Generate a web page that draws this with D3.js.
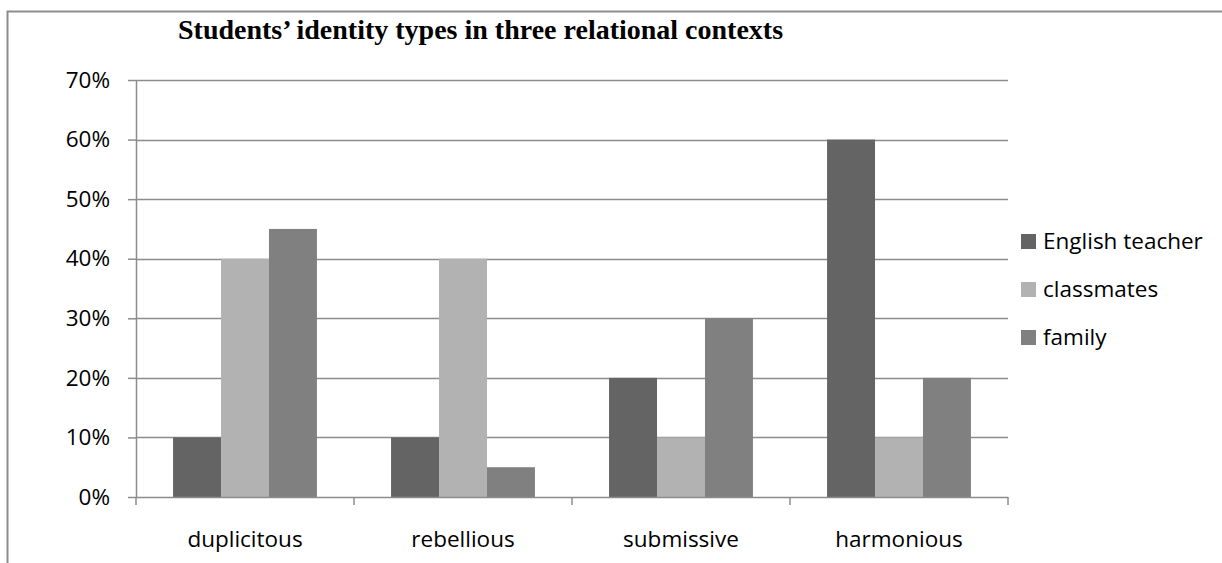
<!DOCTYPE html>
<html>
<head>
<meta charset="utf-8">
<script src="https://cdn.jsdelivr.net/npm/d3@7"></script>
<style>
  html, body { margin: 0; padding: 0; background: #fff; }
  svg { display: block; }
</style>
</head>
<body>
<svg id="chart" width="1222" height="563"></svg>
<script>
// Identity types per relational context (share of students)
const categories = ["duplicitous", "rebellious", "submissive", "harmonious"];
const seriesNames = ["English teacher", "classmates", "family"];
const englishTeacher = [0.10, 0.10, 0.20, 0.60];
const classmates = [0.40, 0.40, 0.10, 0.10];
const family = [0.45, 0.05, 0.30, 0.20];
const yTicks = [0, 0.1, 0.2, 0.3, 0.4, 0.5, 0.6, 0.7];
const seriesColors = ["#646464", "#b2b2b2", "#808080"];
const titleText = "Students\u2019 identity types in three relational contexts";

const seriesValues = [englishTeacher, classmates, family];
const rows = categories.map((c, i) => ({
  category: c,
  values: seriesNames.map((s, j) => ({ series: s, value: seriesValues[j][i], idx: j }))
}));

const svg = d3.select("#chart");
const plot = { left: 136, right: 1008, top: 80, bottom: 497 };
const sansFont = "'Open Sans', 'Noto Sans', sans-serif";
const labelSize = 22.5;

// Outer chart frame
svg.append("path")
  .attr("d", "M7.5,563 V11.5 H1222")
  .attr("fill", "none")
  .attr("stroke", "#8c8c8c")
  .attr("stroke-width", 2);

// Title
svg.append("text")
  .attr("x", 178)
  .attr("y", 39)
  .attr("font-family", "'Liberation Serif', 'Times New Roman', serif")
  .attr("font-weight", "bold")
  .attr("font-size", 28)
  .attr("fill", "#000")
  .text(titleText);

const x0 = d3.scaleBand()
  .domain(categories)
  .range([plot.left, plot.right])
  .paddingInner(0.34)
  .paddingOuter(0.17);

const x1 = d3.scaleBand()
  .domain(seriesNames)
  .range([0, x0.bandwidth()]);

const y = d3.scaleLinear()
  .domain([0, 0.7])
  .range([plot.bottom, plot.top]);

// Horizontal gridlines
svg.append("g")
  .selectAll("line")
  .data(yTicks.filter(t => t > 0))
  .join("line")
  .attr("x1", plot.left)
  .attr("x2", plot.right)
  .attr("y1", d => Math.round(y(d)) + 0.5)
  .attr("y2", d => Math.round(y(d)) + 0.5)
  .attr("stroke", "#8c8c8c")
  .attr("stroke-width", 1.5);

// Bars
svg.append("g")
  .selectAll("g")
  .data(rows)
  .join("g")
  .attr("transform", d => `translate(${x0(d.category)},0)`)
  .selectAll("rect")
  .data(d => d.values)
  .join("rect")
  .attr("x", d => x1(d.series))
  .attr("width", x1.bandwidth())
  .attr("y", d => y(d.value))
  .attr("height", d => y(0) - y(d.value))
  .attr("fill", d => seriesColors[d.idx]);

// Y axis
const yAxis = svg.append("g")
  .attr("transform", `translate(${plot.left},0)`)
  .call(d3.axisLeft(y).tickValues(yTicks).tickFormat(d3.format(".0%")).tickSize(8).tickPadding(18));
yAxis.select(".domain").attr("stroke", "#8c8c8c").attr("stroke-width", 1.5).attr("d", `M0.5,${plot.top}V${plot.bottom}`);
yAxis.selectAll(".tick line").attr("stroke", "#8c8c8c").attr("stroke-width", 1.5);
yAxis.selectAll(".tick text")
  .attr("font-family", sansFont)
  .attr("font-size", labelSize)
  .attr("fill", "#000");

// X axis with boundary ticks between categories
const boundaries = d3.range(categories.length + 1).map(i => plot.left + i * (plot.right - plot.left) / categories.length);
const xAxisG = svg.append("g");
xAxisG.append("line")
  .attr("x1", plot.left).attr("x2", plot.right)
  .attr("y1", plot.bottom + 0.5).attr("y2", plot.bottom + 0.5)
  .attr("stroke", "#8c8c8c").attr("stroke-width", 1.5);
xAxisG.selectAll("line.bt")
  .data(boundaries)
  .join("line")
  .attr("class", "bt")
  .attr("x1", d => d).attr("x2", d => d)
  .attr("y1", plot.bottom).attr("y2", plot.bottom + 8)
  .attr("stroke", "#8c8c8c").attr("stroke-width", 1.5);
xAxisG.selectAll("text")
  .data(categories)
  .join("text")
  .attr("x", d => x0(d) + x0.bandwidth() / 2)
  .attr("y", 547)
  .attr("text-anchor", "middle")
  .attr("font-family", sansFont)
  .attr("font-size", labelSize)
  .attr("fill", "#000")
  .text(d => d);

// Legend
const legend = svg.append("g").attr("transform", "translate(1021,242)");
const items = legend.selectAll("g")
  .data(seriesNames)
  .join("g")
  .attr("transform", (d, i) => `translate(0,${i * 48})`);
items.append("rect")
  .attr("x", 0).attr("y", -8)
  .attr("width", 15).attr("height", 15)
  .attr("fill", (d, i) => seriesColors[i]);
items.append("text")
  .attr("x", 22)
  .attr("y", 7)
  .attr("font-family", sansFont)
  .attr("font-size", labelSize)
  .attr("fill", "#000")
  .text(d => d);
</script>
</body>
</html>
